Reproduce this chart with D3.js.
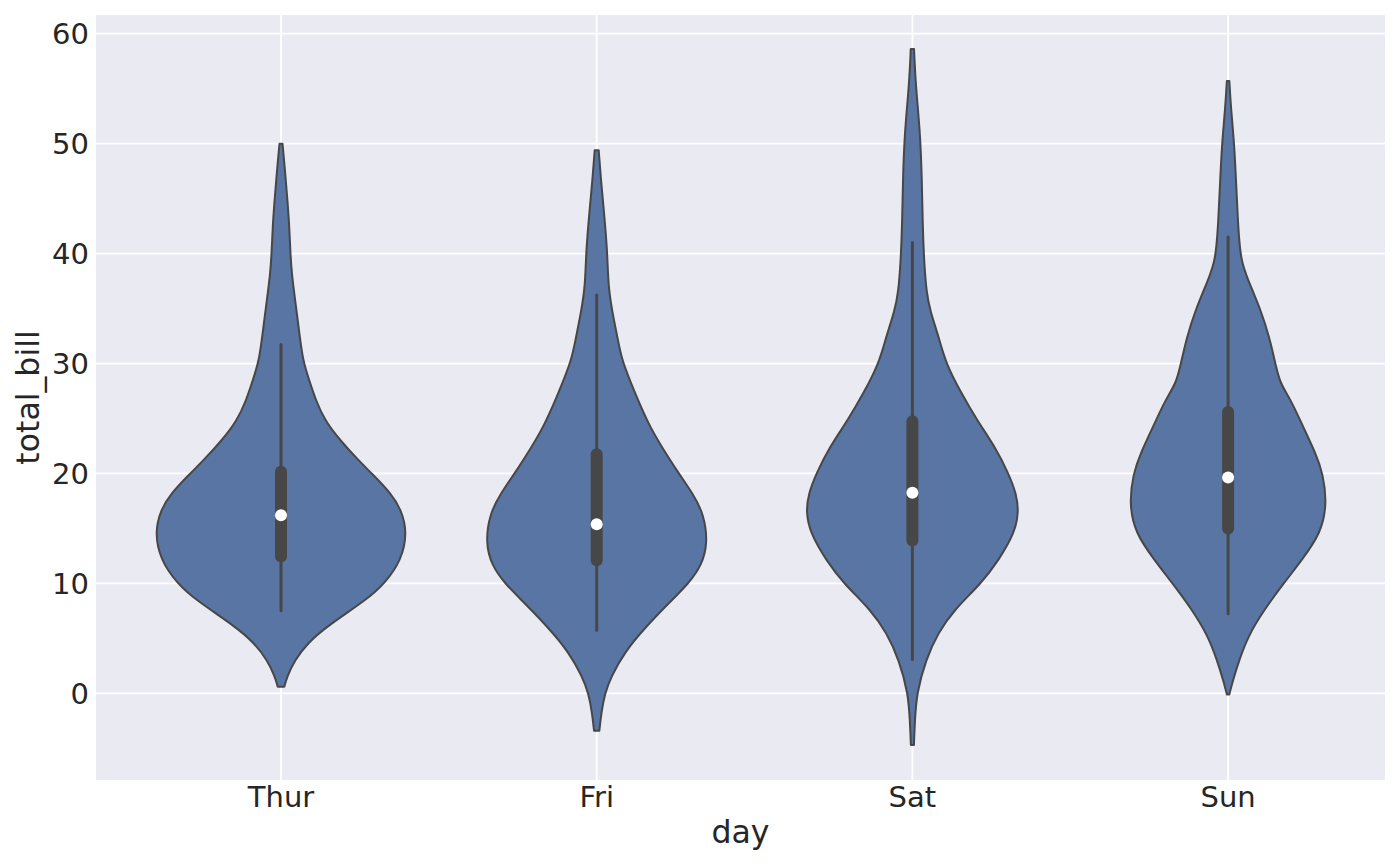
<!DOCTYPE html>
<html>
<head>
<meta charset="utf-8">
<script src="https://cdn.jsdelivr.net/npm/d3@7"></script>
<style>
  body { margin: 0; background: #ffffff; }
  text { font-family: "DejaVu Sans", sans-serif; fill: #262626; }
</style>
</head>
<body>
<svg id="vis"></svg>
<script>
const plotWidth = 1400;
const plotHeight = 866;
const svg = d3.select('#vis')
            .attr('width', plotWidth)
            .attr('height', plotHeight);

// categories
const days = ['Thur', 'Fri', 'Sat', 'Sun'];
const yTicks = [0, 10, 20, 30, 40, 50, 60];

// violin outlines: bill value and relative half width
const thurBill  = [50.0, 49.0, 47.5, 45.0, 42.5, 40.0, 38.0, 36.4, 33.1, 30.3, 28.5, 26.7, 24.8, 23.0, 21.2, 20.0, 18.2, 16.7, 14.6, 12.1, 10.0, 8.5, 6.1, 4.6, 3.0, 1.5, 0.6];
const thurWidth = [0.012, 0.020, 0.032, 0.050, 0.066, 0.074, 0.087, 0.105, 0.142, 0.172, 0.223, 0.274, 0.348, 0.469, 0.613, 0.719, 0.870, 0.953, 1.0, 0.953, 0.822, 0.676, 0.364, 0.213, 0.107, 0.047, 0.026];

const friBill  = [49.4, 46.9, 43.4, 40.0, 37.1, 34.7, 32.3, 30.3, 27.3, 24.2, 21.2, 20.0, 18.2, 16.4, 13.7, 11.6, 10.0, 8.5, 6.1, 3.7, 1.5, 0.0, -1.8, -3.4];
const friWidth = [0.016, 0.032, 0.061, 0.085, 0.091, 0.123, 0.166, 0.198, 0.304, 0.419, 0.582, 0.651, 0.759, 0.846, 0.881, 0.830, 0.727, 0.597, 0.392, 0.217, 0.114, 0.064, 0.036, 0.021];

const satBill  = [58.6, 55.3, 51.1, 46.9, 42.7, 39.4, 36.5, 34.8, 32.4, 30.0, 27.3, 24.8, 22.4, 20.0, 18.2, 16.5, 14.6, 12.1, 10.0, 7.6, 5.5, 3.0, 0.0, -2.4, -4.7];
const satWidth = [0.013, 0.026, 0.061, 0.075, 0.081, 0.092, 0.111, 0.140, 0.209, 0.265, 0.387, 0.514, 0.656, 0.761, 0.822, 0.843, 0.810, 0.683, 0.545, 0.330, 0.203, 0.104, 0.034, 0.020, 0.012];

const sunBill  = [55.7, 53.0, 50.0, 45.6, 42.6, 39.4, 37.6, 34.8, 32.4, 30.0, 28.2, 26.7, 24.2, 21.8, 20.0, 17.3, 14.6, 12.1, 10.0, 7.6, 5.2, 3.0, 0.9, -0.1];
const sunWidth = [0.010, 0.024, 0.049, 0.067, 0.079, 0.099, 0.158, 0.261, 0.327, 0.374, 0.411, 0.497, 0.596, 0.695, 0.751, 0.783, 0.737, 0.582, 0.440, 0.285, 0.158, 0.087, 0.031, 0.010];

// inner box stats
const whiskerLow  = [7.51, 5.75, 3.07, 7.25];
const q1s         = [12.44, 12.10, 13.91, 14.99];
const medians     = [16.20, 15.38, 18.24, 19.63];
const q3s         = [20.16, 21.75, 24.74, 25.60];
const whiskerHigh = [31.72, 36.23, 41.00, 41.51];


function main() {
    const margin = {left: 96, right: 15, top: 15, bottom: 86};
    const x = d3.scaleLinear()
                .domain([-0.586, 3.497])
                .range([margin.left, plotWidth - margin.right]);
    const y = d3.scaleLinear()
                .domain([-7.88, 61.7])
                .range([plotHeight - margin.bottom, margin.top]);

    drawFrame(x, y);

    const profiles = [
        [thurBill, thurWidth],
        [friBill, friWidth],
        [satBill, satWidth],
        [sunBill, sunWidth],
    ];
    // widest violin gets 0.8 of a category
    const halfWidth = d3.scaleLinear().domain([0, 1]).range([0, 0.4]);

    profiles.forEach(([bill, width], i) => {
        const pts = bill.map((b, j) => ({b: b, w: width[j]}));
        const area = d3.area()
                        .curve(d3.curveBasis)
                        .y(d => y(d.b))
                        .x0(d => x(i - halfWidth(d.w)))
                        .x1(d => x(i + halfWidth(d.w)));
        svg.append('path')
            .attr('d', area(pts))
            .attr('fill', '#5875a4')
            .attr('stroke', '#474747')
            .attr('stroke-width', 2)
            .attr('stroke-linejoin', 'round');
    });

    // whiskers, boxes, medians
    svg.selectAll('.whisker').data(days).enter()
        .append('line')
        .attr('x1', (d, i) => x(i)).attr('x2', (d, i) => x(i))
        .attr('y1', (d, i) => y(whiskerLow[i]))
        .attr('y2', (d, i) => y(whiskerHigh[i]))
        .attr('stroke', '#474747')
        .attr('stroke-width', 3)
        .attr('stroke-linecap', 'round');

    svg.selectAll('.box').data(days).enter()
        .append('line')
        .attr('x1', (d, i) => x(i)).attr('x2', (d, i) => x(i))
        .attr('y1', (d, i) => y(q1s[i]))
        .attr('y2', (d, i) => y(q3s[i]))
        .attr('stroke', '#474747')
        .attr('stroke-width', 12)
        .attr('stroke-linecap', 'round');

    svg.selectAll('.median').data(days).enter()
        .append('circle')
        .attr('cx', (d, i) => x(i))
        .attr('cy', (d, i) => y(medians[i]))
        .attr('r', 6)
        .attr('fill', '#ffffff');
}


function drawFrame(x, y) {
    const [x0, x1] = x.range();
    const [y0, y1] = y.range();

    svg.append('rect')
        .attr('x', x0).attr('y', y1)
        .attr('width', x1 - x0).attr('height', y0 - y1)
        .attr('fill', '#eaeaf2');

    // grid
    svg.selectAll('.hgrid').data(yTicks).enter()
        .append('line')
        .attr('x1', x0).attr('x2', x1)
        .attr('y1', d => y(d)).attr('y2', d => y(d))
        .attr('stroke', '#ffffff').attr('stroke-width', 1.8);
    svg.selectAll('.vgrid').data(days).enter()
        .append('line')
        .attr('x1', (d, i) => x(i)).attr('x2', (d, i) => x(i))
        .attr('y1', y0).attr('y2', y1)
        .attr('stroke', '#ffffff').attr('stroke-width', 1.8);

    // tick labels
    svg.selectAll('.ytick').data(yTicks).enter()
        .append('text')
        .attr('x', x0 - 7)
        .attr('y', d => y(d))
        .attr('dy', '0.36em')
        .attr('text-anchor', 'end')
        .style('font-size', '29px')
        .text(d => d);
    svg.selectAll('.xtick').data(days).enter()
        .append('text')
        .attr('x', (d, i) => x(i))
        .attr('y', 807)
        .attr('text-anchor', 'middle')
        .style('font-size', '29px')
        .text(d => d);

    // axis titles
    svg.append('text')
        .attr('x', (x0 + x1) / 2)
        .attr('y', 843)
        .attr('text-anchor', 'middle')
        .style('font-size', '31.6px')
        .text('day');
    svg.append('text')
        .attr('transform', `translate(38.5, ${(y0 + y1) / 2}) rotate(-90)`)
        .attr('text-anchor', 'middle')
        .style('font-size', '31.6px')
        .text('total_bill');
}


main()
</script>
</body>
</html>
